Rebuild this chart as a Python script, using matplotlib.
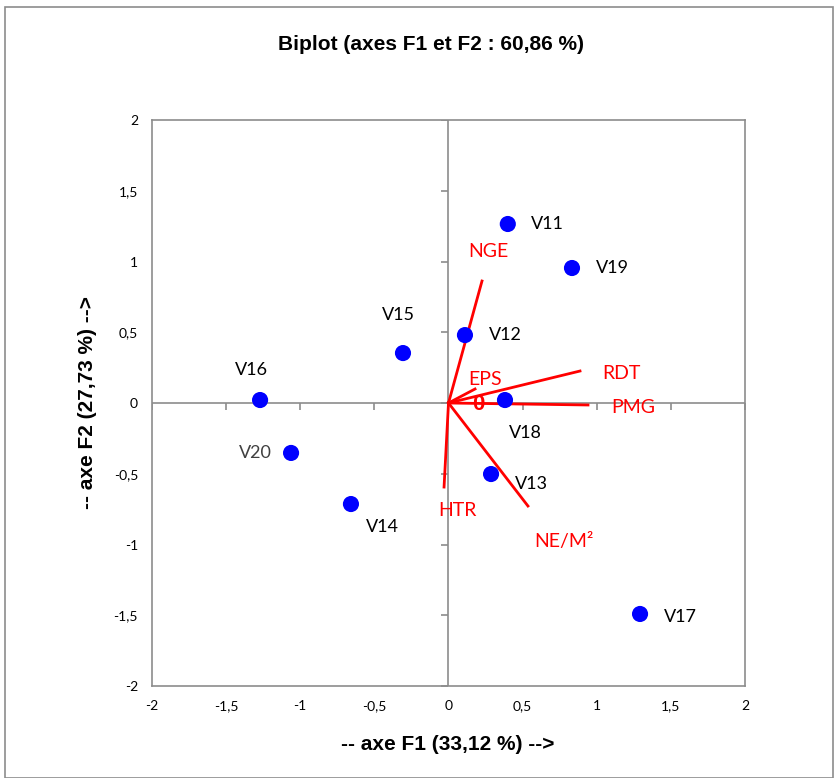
import matplotlib
matplotlib.use("Agg")
import matplotlib.pyplot as plt
from matplotlib.patches import Rectangle

plt.rcParams['font.family'] = ['Lato', 'DejaVu Sans']

# observations (genotypes)
obs_names = ["V11", "V19", "V12", "V15", "V16", "V20", "V14", "V18", "V13", "V17"]
obs_f1 = [0.40, 0.833, 0.111, -0.307, -1.271, -1.062, -0.658, 0.381, 0.287, 1.292]
obs_f2 = [1.265, 0.954, 0.48, 0.353, 0.021, -0.353, -0.714, 0.021, -0.502, -1.491]

# variables
var_names = ["NGE", "RDT", "PMG", "EPS", "HTR", "NE/M²"]
var_f1 = [0.226, 0.887, 0.941, 0.179, -0.030, 0.536]
var_f2 = [0.862, 0.226, -0.014, 0.099, -0.594, -0.728]

ticks = [-2, -1.5, -1, -0.5, 0, 0.5, 1, 1.5, 2]
tick_labels = ["-2", "-1,5", "-1", "-0,5", "0", "0,5", "1", "1,5", "2"]

fig = plt.figure(figsize=(8.37, 7.78), dpi=100)
fig.patches.append(Rectangle((5/837, 0), 828/837, 771/778, transform=fig.transFigure,
                             fill=False, edgecolor="#8c8c8c", linewidth=1.2))
ax = fig.add_axes([152/837, 1-686/778, 593/837, 566/778])
ax.set_xlim(-2, 2)
ax.set_ylim(-2, 2)
for s in ax.spines.values():
    s.set_color("#8c8c8c")
    s.set_linewidth(1.2)
ax.set_xticks(ticks)
ax.set_xticklabels(tick_labels)
ax.set_yticks(ticks)
ax.set_yticklabels(tick_labels)
ax.tick_params(length=0, labelsize=10, pad=10, colors="black")

# zero axes with tick marks
ax.axhline(0, color="#8c8c8c", lw=1.2, zorder=1)
ax.axvline(0, color="#8c8c8c", lw=1.2, zorder=1)
ax.plot([0]*len(ticks), ticks, ls="none", marker=0, ms=5, color="#8c8c8c", mew=1.2, zorder=1)
ax.plot(ticks, [0]*len(ticks), ls="none", marker=3, ms=5, color="#8c8c8c", mew=1.2, zorder=1)

# vectors
for n, x, y in zip(var_names, var_f1, var_f2):
    ax.plot([0, x], [0, y], color="red", lw=2, zorder=3)

var_lbl_pos = {"NGE": (0.266, 1.074), "RDT": (1.164, 0.205), "PMG": (1.245, -0.035),
               "EPS": (0.246, 0.163), "HTR": (0.057, -0.763), "NE/M²": (0.779, -0.982)}
for n in var_names:
    lx, ly = var_lbl_pos[n]
    ax.text(lx, ly, n, color="red", fontsize=14, ha="center", va="center", zorder=5)
ax.text(0.2, -0.01, "0", color="red", fontsize=16, fontweight="bold",
        family=["Liberation Sans", "DejaVu Sans"], ha="center", va="center", zorder=5)

# observations
ax.scatter(obs_f1, obs_f2, s=135, color="#0000ff", zorder=4, edgecolors="none")
obs_lbl = {"V11": (0.27, 0), "V19": (0.27, 0), "V12": (0.27, 0), "V15": (-0.03, 0.27),
           "V16": (-0.06, 0.21), "V14": (0.21, -0.16), "V18": (0.14, -0.23),
           "V13": (0.27, -0.07), "V17": (0.27, -0.02)}
for n, x, y in zip(obs_names, obs_f1, obs_f2):
    if n == "V20":
        ax.text(x - 0.24, y, n, fontsize=13, ha="center", va="center", color="#404040",
                zorder=5)
        continue
    dx, dy = obs_lbl[n]
    ax.text(x + dx, y + dy, n, fontsize=13, ha="center", va="center", zorder=5)

bold = dict(family=["Liberation Sans", "DejaVu Sans"], fontweight="bold", fontsize=15)
fig.text(431/837, 1-44/778, "Biplot (axes F1 et F2 : 60,86 %)", ha="center", va="center", **bold)
fig.text(448/837, 1-745/778, "-- axe F1 (33,12 %) -->", ha="center", va="center", **bold)
fig.text(88/837, 1-403/778, "-- axe F2 (27,73 %) -->", ha="center", va="center",
         rotation=90, **bold)

fig.savefig("out.png", dpi=100)
